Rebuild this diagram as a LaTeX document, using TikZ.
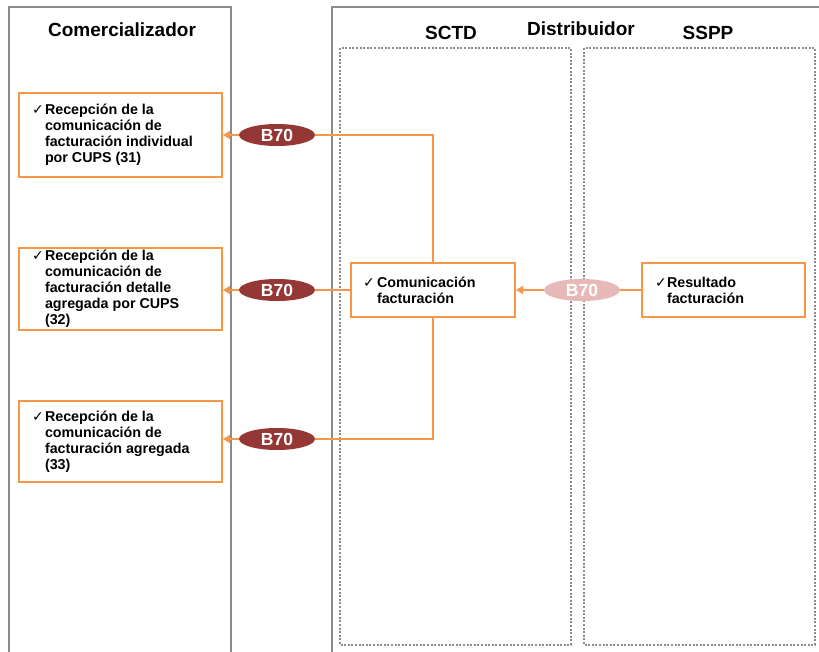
\documentclass[tikz,border=0pt]{standalone}
\usepackage{fontspec}
\setmainfont{Liberation Sans}
\newfontfamily\symf{DejaVu Sans}
\usetikzlibrary{shapes.geometric,arrows.meta}
\definecolor{lanegray}{HTML}{8C8C8C}
\definecolor{orng}{HTML}{F79646}
\definecolor{dred}{HTML}{953735}
\definecolor{pred}{HTML}{E6B9B8}
\newcommand{\ck}{{\symf\mdseries\fontsize{14}{14}\selectfont ✓}}
\newcommand{\cktext}[3]{\makebox[#1][l]{\ck}\parbox[t]{#2}{#3}}
\begin{document}
\begin{tikzpicture}[x=1pt,y=-1pt,
 lane/.style={draw=lanegray,line width=2pt},
 sub/.style={draw=lanegray,line width=2pt,dash pattern=on 2pt off 1.6pt},
 title/.style={font=\bfseries\fontsize{19}{22}\selectfont},
 box/.style={draw=orng,line width=2pt,fill=white,inner sep=0pt,font=\bfseries\fontsize{14.3}{16}\selectfont},
 msg/.style={ellipse,fill=dred,text=white,minimum width=76pt,minimum height=22pt,inner sep=0pt,font=\bfseries\fontsize{17.5}{18}\selectfont},
 link/.style={draw=orng,line width=2pt},
 arr/.style={link,-{Triangle[length=7pt,width=8pt]}}
]
\useasboundingbox (0,0) rectangle (819,651);
\clip (0,0) rectangle (819,651);
\fill[white] (0,0) rectangle (819,651);

% lanes
\draw[lane] (9,700) -- (9,7) -- (231,7) -- (231,700);
\draw[lane] (332,700) -- (332,7) -- (840,7);
\draw[sub] (340,48) rectangle (571,645);
\draw[sub] (584,48) rectangle (815,645);

% titles
\node[title] (tcom) at (122,30) {Comercializador};
\node[title] (tsctd) at (451,33) {SCTD};
\node[title] (tdis) at (581,29) {Distribuidor};
\node[title] (tsspp) at (708,33) {SSPP};

% boxes
\node[box,minimum width=203pt,minimum height=84pt] (r1) at (120.5,135)
  {\cktext{13pt}{164pt}{Recepción de la\\comunicación de\\facturación individual\\por CUPS (31)}};
\node[box,minimum width=203pt,minimum height=82pt] (r2) at (120.5,289)
  {\cktext{13pt}{164pt}{Recepción de la\\comunicación de\\facturación detalle\\agregada por CUPS\\(32)}};
\node[box,minimum width=203pt,minimum height=81pt] (r3) at (120.5,441.5)
  {\cktext{13pt}{164pt}{Recepción de la\\comunicación de\\facturación agregada\\(33)}};
\node[box,minimum width=164pt,minimum height=54pt] (cf) at (433,290)
  {\cktext{14pt}{126pt}{Comunicación\\facturación}};
\node[box,minimum width=163pt,minimum height=54pt] (rf) at (723.5,290)
  {\cktext{12pt}{125pt}{Resultado\\facturación}};

% messages
\node[msg] (m1) at (277,135) {B70};
\node[msg] (m2) at (277,290) {B70};
\node[msg] (m3) at (277,439) {B70};
\node[msg,fill=pred] (m4) at (582,290) {B70};

% connectors
\draw[arr] (m1.west) -- (m1.west -| r1.east);
\draw[arr] (m2.west) -- (m2.west -| r2.east);
\draw[arr] (m3.west) -- (m3.west -| r3.east);
\draw[link] (cf.north) |- (m1.east);
\draw[link] (cf.south) |- (m3.east);
\draw[link] (cf.west) -- (m2.east);
\draw[link] (rf.west) -- (m4.east);
\draw[arr] (m4.west) -- (cf.east);
\end{tikzpicture}
\end{document}
